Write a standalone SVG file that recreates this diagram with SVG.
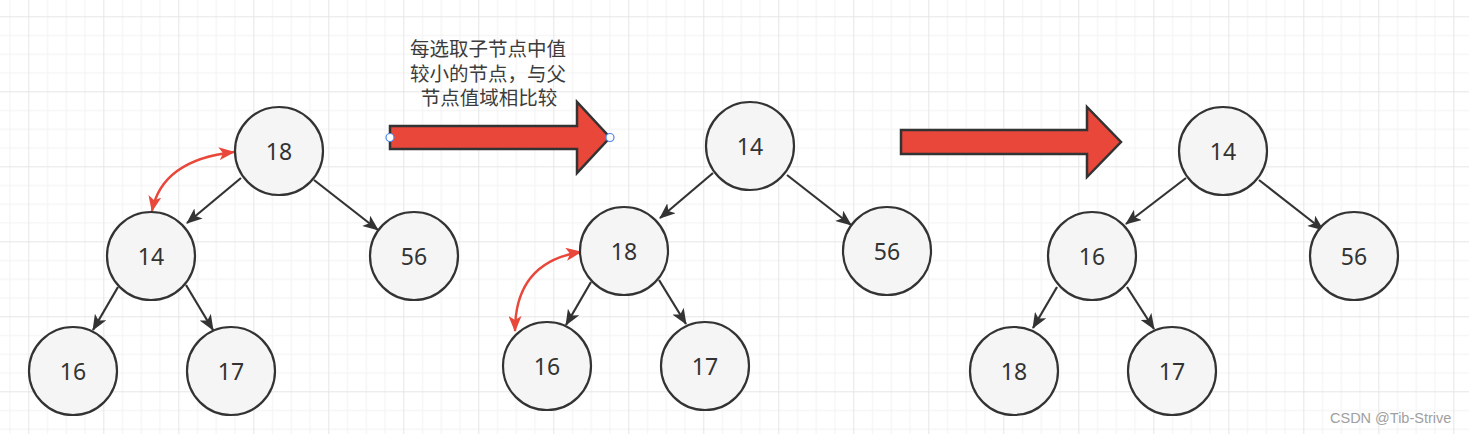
<svg xmlns="http://www.w3.org/2000/svg" width="1469" height="434" viewBox="0 0 1469 434">
<defs>
<pattern id="grid" x="28.3" y="16.3" width="75" height="75" patternUnits="userSpaceOnUse">
<rect x="18.75" y="0" width="1" height="75" fill="#f2f2f2"/>
<rect x="37.5" y="0" width="1" height="75" fill="#f2f2f2"/>
<rect x="56.25" y="0" width="1" height="75" fill="#f2f2f2"/>
<rect x="0" y="18.75" width="75" height="1" fill="#f2f2f2"/>
<rect x="0" y="37.5" width="75" height="1" fill="#f2f2f2"/>
<rect x="0" y="56.25" width="75" height="1" fill="#f2f2f2"/>
<rect x="0" y="0" width="1" height="75" fill="#e6e6e6"/>
<rect x="0" y="0" width="75" height="1" fill="#e6e6e6"/>
</pattern>
<marker id="blk" viewBox="0 0 16 13" refX="15" refY="6.5" markerWidth="16" markerHeight="13" markerUnits="userSpaceOnUse" orient="auto">
<path d="M0,0 L16,6.5 L0,13 L4,6.5 z" fill="#333333"/>
</marker>
<marker id="red" viewBox="0 0 16 13" refX="15" refY="6.5" markerWidth="16" markerHeight="13" markerUnits="userSpaceOnUse" orient="auto-start-reverse">
<path d="M0,0 L16,6.5 L0,13 L4,6.5 z" fill="#e8473a"/>
</marker>
</defs>
<style>
.node circle{fill:#f5f5f5;stroke:#333333;stroke-width:2.2}
.node text{font-family:"Noto Sans","Liberation Sans",sans-serif;font-size:23px;fill:#333333;text-anchor:middle}
.edge{stroke:#333333;stroke-width:2.2;fill:none;marker-end:url(#blk)}
.cur{stroke:#e8473a;stroke-width:2.4;fill:none;marker-start:url(#red);marker-end:url(#red)}
.big{fill:#e8473a;stroke:#333333;stroke-width:2.5;stroke-linejoin:miter}
.lbl{font-family:"Noto Sans CJK SC","Noto Sans",sans-serif;font-size:19.5px;fill:#3c3c3c;text-anchor:middle}
.pt{fill:#ffffff;stroke:#4a86e8;stroke-width:1.2}
</style>
<rect width="1469" height="434" fill="#ffffff"/>
<rect width="1469" height="434" fill="url(#grid)"/>

<g id="connectors">
<line class="edge" x1="241" y1="178" x2="187" y2="223"/>
<line class="edge" x1="314" y1="180" x2="378" y2="230"/>
<line class="edge" x1="118" y1="287" x2="93" y2="330"/>
<line class="edge" x1="186" y1="285" x2="213" y2="330"/>
<line class="edge" x1="713" y1="173" x2="660" y2="218"/>
<line class="edge" x1="787" y1="175" x2="851" y2="225"/>
<line class="edge" x1="591" y1="282" x2="566" y2="325"/>
<line class="edge" x1="659" y1="280" x2="686" y2="324"/>
<line class="edge" x1="1186" y1="178" x2="1126" y2="224"/>
<line class="edge" x1="1259" y1="180" x2="1323" y2="230"/>
<line class="edge" x1="1057" y1="287" x2="1033" y2="328"/>
<line class="edge" x1="1127" y1="287" x2="1154" y2="329"/>
<path class="cur" d="M234,152 Q162,160 152,211"/>
<path class="cur" d="M581,252 Q515,262 515,331"/>
</g>

<g id="node-t1-18" class="node"><circle cx="279" cy="151" r="44"/><text x="279" y="160">18</text></g>
<g id="node-t1-14" class="node"><circle cx="151" cy="256" r="44"/><text x="151" y="265">14</text></g>
<g id="node-t1-56" class="node"><circle cx="414" cy="256" r="44"/><text x="414" y="265">56</text></g>
<g id="node-t1-16" class="node"><circle cx="73" cy="371" r="44"/><text x="73" y="380">16</text></g>
<g id="node-t1-17" class="node"><circle cx="231" cy="371" r="44"/><text x="231" y="380">17</text></g>

<g id="node-t2-14" class="node"><circle cx="750" cy="146" r="44"/><text x="750" y="155">14</text></g>
<g id="node-t2-18" class="node"><circle cx="624" cy="251" r="44"/><text x="624" y="260">18</text></g>
<g id="node-t2-56" class="node"><circle cx="887" cy="251" r="44"/><text x="887" y="260">56</text></g>
<g id="node-t2-16" class="node"><circle cx="547" cy="366" r="44"/><text x="547" y="375">16</text></g>
<g id="node-t2-17" class="node"><circle cx="705" cy="366" r="44"/><text x="705" y="375">17</text></g>

<g id="node-t3-14" class="node"><circle cx="1223" cy="151" r="44"/><text x="1223" y="160">14</text></g>
<g id="node-t3-16" class="node"><circle cx="1092" cy="256" r="44"/><text x="1092" y="265">16</text></g>
<g id="node-t3-56" class="node"><circle cx="1354" cy="256" r="44"/><text x="1354" y="265">56</text></g>
<g id="node-t3-18" class="node"><circle cx="1014" cy="371" r="44"/><text x="1014" y="380">18</text></g>
<g id="node-t3-17" class="node"><circle cx="1172" cy="371" r="44"/><text x="1172" y="380">17</text></g>

<g id="arrow-1">
<path class="big" d="M390,126 L577,126 L577,102 L610,137.5 L577,173 L577,149 L390,149 Z"/>
<circle class="pt" cx="390" cy="137.5" r="4"/>
<circle class="pt" cx="610" cy="137.5" r="4"/>
</g>
<g id="arrow-label">
<text class="lbl" x="488" y="56">每选取子节点中值</text>
<text class="lbl" x="488" y="80.5">较小的节点，与父</text>
<text class="lbl" x="489" y="105">节点值域相比较</text>
</g>
<g id="arrow-2">
<path class="big" d="M901,130 L1087,130 L1087,107 L1121,142 L1087,177 L1087,154 L901,154 Z"/>
</g>
<text x="1330" y="423" font-family="Liberation Sans, Arial, sans-serif" font-size="14.5" fill="#a0a0a0">CSDN @Tib-Strive</text>
</svg>
